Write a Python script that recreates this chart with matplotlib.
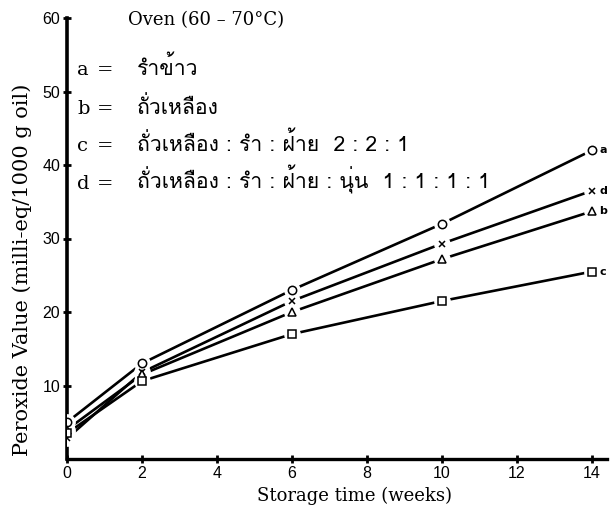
import numpy as np
import matplotlib
matplotlib.use("Agg")
import matplotlib.pyplot as plt
from matplotlib import font_manager
from matplotlib.ft2font import FT2Font

# storage time in weeks and peroxide value for each feed mix
weeks = [0, 2, 6, 10, 14]
pv_a = [5.0, 13.0, 23.0, 32.0, 42.0]
pv_b = [4.0, 11.5, 20.0, 27.2, 33.7]
pv_c = [3.5, 10.6, 17.0, 21.5, 25.5]
pv_d = [2.8, 11.8, 21.5, 29.3, 36.5]

series = [("a", pv_a, "o"), ("d", pv_d, "x"), ("b", pv_b, "^"), ("c", pv_c, "s")]

legend_keys = ["a", "b", "c", "d"]
legend_text = ["รำข้าว",
               "ถั่วเหลือง",
               "ถั่วเหลือง : รำ : ฝ้าย  2 : 2 : 1",
               "ถั่วเหลือง : รำ : ฝ้าย : นุ่น  1 : 1 : 1 : 1"]


def find_thai_font():
    # pick an installed font that has Thai glyphs, regular weight first
    paths = sorted(font_manager.findSystemFonts(),
                   key=lambda p: ("bold" in p.lower(), "italic" in p.lower() or "oblique" in p.lower(), p))
    for path in paths:
        try:
            if 0x0E23 in FT2Font(path).get_charmap():
                return font_manager.FontProperties(fname=path)
        except Exception:
            continue
    return font_manager.FontProperties(family="DejaVu Sans")


thai = find_thai_font()
thai.set_size(15.3)
serif = "DejaVu Serif"

fig = plt.figure(figsize=(6.11, 5.13), dpi=100)
ax = fig.add_axes([67/611, 54/513, 540/611, 441/513])

for key, vals, mk in series:
    ax.plot(weeks, vals, color="black", lw=1.9, zorder=2, solid_capstyle="butt")
    ax.plot(weeks, vals, ls="none", marker="o", ms=11, mfc="white", mec="white", zorder=3)
    ax.plot(weeks, vals, ls="none", marker=mk, ms=6 if mk != "x" else 5,
            mfc="white", mec="black", mew=1.1, zorder=4)
    ax.text(14.2, vals[-1], key, fontsize=8, fontweight="bold", family="DejaVu Sans",
            va="center", ha="left", clip_on=False)

ax.set_xlim(0, 14.4)
ax.set_ylim(0, 60)
ax.set_xticks(range(0, 15, 2))
ax.set_yticks(range(10, 61, 10))
ax.tick_params(direction="inout", length=6, width=2, labelsize=11.5, pad=2)
for lab in ax.get_xticklabels() + ax.get_yticklabels():
    lab.set_family("Liberation Sans")
ax.spines["top"].set_visible(False)
ax.spines["right"].set_visible(False)
ax.spines["left"].set_linewidth(2.6)
ax.spines["bottom"].set_linewidth(2.4)

ax.set_xlabel("Storage time (weeks)", fontsize=13, family=serif)
ax.set_ylabel("Peroxide Value (milli-eq/1000 g oil)", fontsize=15, family=serif)
ax.xaxis.set_label_coords(0.533, -0.063)
ax.yaxis.set_label_coords(-0.065, 0.43)

fig.text(128/611, 1 - 25/513, "Oven (60 – 70°C)", fontsize=13, family=serif, va="baseline")

rows = [75, 114, 151, 189]
for key, txt, y in zip(legend_keys, legend_text, rows):
    fig.text(77/611, 1 - y/513, key, fontsize=14, family=serif, va="baseline")
    fig.text(97/611, 1 - y/513, "=", fontsize=14, family=serif, va="baseline")
    fig.text(137/611, 1 - y/513, txt, fontproperties=thai, va="baseline")

fig.savefig("out.png", dpi=100)
